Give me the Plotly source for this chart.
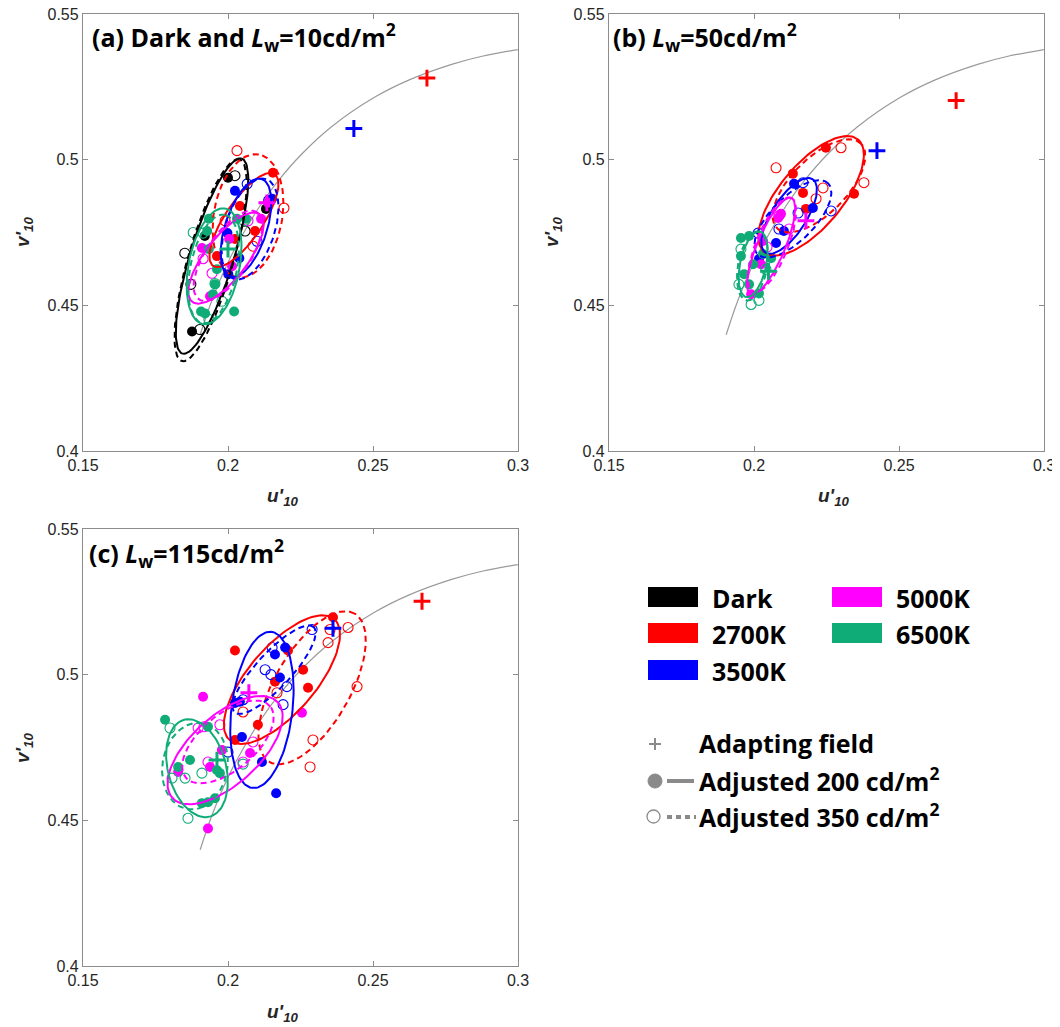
import numpy as np
import plotly.graph_objects as go

# The page body adds an 8 px margin, so the figure is drawn 8 px smaller and all
# layout positions (given in screen pixels of the 1060x1027 window) are shifted by it.
OFF = 8
W, H = 1060 - OFF, 1027 - OFF

# ---------------- data ----------------
conditions = ["Dark", "2700K", "3500K", "5000K", "6500K"]
colors = ["#000000", "#FF0000", "#0000FF", "#FF00FF", "#10AC78"]

# Planckian locus (u'10, v'10)
locus_u = [0.1904, 0.1946, 0.2004, 0.2069, 0.2114, 0.2173, 0.2251, 0.2357, 0.2505, 0.2625, 0.2774, 0.2876, 0.3050]
locus_v = [0.4399, 0.4521, 0.4656, 0.4775, 0.4847, 0.4927, 0.5016, 0.5113, 0.5214, 0.5274, 0.5328, 0.5355, 0.5386]

# Panel (a): Dark and Lw=10 cd/m2
a_dark_200 = [(0.2000, 0.4938), (0.2131, 0.4831), (0.1876, 0.4410), (0.1920, 0.4738)]
a_dark_350 = [(0.2024, 0.4945), (0.1851, 0.4679), (0.1872, 0.4572), (0.1903, 0.4417), (0.2059, 0.4755)]
a_red_200 = [(0.2155, 0.4955), (0.2041, 0.4841), (0.1962, 0.4669), (0.2024, 0.4728), (0.2093, 0.4755)]
a_red_350 = [(0.2031, 0.5031), (0.2193, 0.4834), (0.2086, 0.4703), (0.1990, 0.4790)]
a_blue_200 = [(0.2024, 0.4893), (0.2152, 0.4866), (0.1998, 0.4748), (0.2039, 0.4662), (0.2001, 0.4607)]
a_blue_350 = [(0.2066, 0.4917), (0.2100, 0.4720), (0.2140, 0.4860)]
a_mag_200 = [(0.2138, 0.4852), (0.2114, 0.4797), (0.2004, 0.4728), (0.2014, 0.4634), (0.1938, 0.4531), (0.1910, 0.4697)]
a_mag_350 = [(0.2069, 0.4790), (0.1945, 0.4610), (0.1914, 0.4660)]
a_green_200 = [(0.1934, 0.4797), (0.1928, 0.4755), (0.1934, 0.4693), (0.1962, 0.4624), (0.1955, 0.4572),
               (0.1907, 0.4479), (0.1921, 0.4472), (0.2021, 0.4479), (0.2031, 0.4797), (0.2062, 0.4797), (0.1948, 0.4538)]
a_green_350 = [(0.1914, 0.4748), (0.1955, 0.4575), (0.1979, 0.4514), (0.1934, 0.4452), (0.2055, 0.4790), (0.1880, 0.4750)]
# ellipses: (centre u, centre v, semi-major, semi-minor, angle deg), order = conditions
a_ell_200 = [(0.1945, 0.4669, 0.0350, 0.0075, 73), (0.2055, 0.4793, 0.0190, 0.0065, 56),
             (0.2062, 0.4766, 0.0176, 0.0072, 72), (0.1993, 0.4662, 0.0190, 0.0072, 52),
             (0.1952, 0.4634, 0.0202, 0.0088, 79)]
a_ell_350 = [(0.1940, 0.4655, 0.0360, 0.0078, 74), (0.2069, 0.4807, 0.0214, 0.0118, 80),
             (0.2076, 0.4762, 0.0180, 0.0085, 72), (0.2000, 0.4670, 0.0180, 0.0075, 56),
             (0.1950, 0.4625, 0.0190, 0.0080, 78)]
a_adapt = [None, (0.2686, 0.5280), (0.2434, 0.5107), (0.2134, 0.4852), (0.2000, 0.4693)]

# Panel (b): Lw=50 cd/m2
b_dark_200 = []
b_dark_350 = []
b_red_200 = [(0.2248, 0.5041), (0.2134, 0.4952), (0.2169, 0.4886), (0.2345, 0.4883), (0.2179, 0.4831)]
b_red_350 = [(0.2300, 0.5041), (0.2076, 0.4972), (0.2238, 0.4903), (0.2214, 0.4866), (0.2379, 0.4921)]
b_blue_200 = [(0.2138, 0.4917), (0.2203, 0.4834), (0.2103, 0.4755), (0.2076, 0.4714), (0.2017, 0.4659)]
b_blue_350 = [(0.2169, 0.4921), (0.2266, 0.4824), (0.2152, 0.4817), (0.2086, 0.4762), (0.2014, 0.4748)]
b_mag_200 = [(0.2093, 0.4814), (0.2031, 0.4721), (0.2024, 0.4641), (0.1990, 0.4538), (0.2083, 0.4800)]
b_mag_350 = [(0.2121, 0.4762), (0.2086, 0.4807), (0.2045, 0.4700)]
b_green_200 = [(0.1955, 0.4731), (0.1983, 0.4738), (0.2031, 0.4676), (0.1997, 0.4641), (0.1966, 0.4607),
               (0.1983, 0.4572), (0.2017, 0.4541), (0.2059, 0.4662), (0.1955, 0.4669)]
b_green_350 = [(0.1955, 0.4693), (0.1948, 0.4572), (0.1990, 0.4503), (0.2041, 0.4624), (0.2017, 0.4517)]
b_ell_200 = [None, (0.2197, 0.4876, 0.0252, 0.0108, 50), (0.2121, 0.4807, 0.0150, 0.0060, 57),
             (0.2059, 0.4703, 0.0180, 0.0048, 67), (0.1997, 0.4641, 0.0115, 0.0045, 78)]
b_ell_350 = [None, (0.2224, 0.4910, 0.0205, 0.0095, 45), (0.2134, 0.4797, 0.0172, 0.0075, 45),
             (0.2062, 0.4707, 0.0175, 0.0055, 68), (0.1995, 0.4635, 0.0120, 0.0050, 80)]
b_adapt = [None, (0.2697, 0.5203), (0.2424, 0.5031), (0.2179, 0.4790), (0.2050, 0.4617)]

# Panel (c): Lw=115 cd/m2
c_dark_200 = []
c_dark_350 = []
c_red_200 = [(0.2362, 0.5197), (0.2024, 0.5083), (0.2207, 0.5083), (0.2259, 0.5017), (0.2162, 0.4976),
             (0.2276, 0.4955), (0.2103, 0.4828), (0.2024, 0.4776)]
c_red_350 = [(0.2352, 0.5155), (0.2414, 0.5162), (0.2345, 0.5110), (0.2445, 0.4959), (0.2169, 0.4938),
             (0.2052, 0.4872), (0.2293, 0.4776), (0.2283, 0.4683)]
c_blue_200 = [(0.2197, 0.5093), (0.2162, 0.5069), (0.2179, 0.4990), (0.2024, 0.4903), (0.2041, 0.4907),
              (0.2048, 0.4786), (0.2117, 0.4700), (0.2166, 0.4593)]
c_blue_350 = [(0.2290, 0.5155), (0.2152, 0.5093), (0.2128, 0.5017), (0.2148, 0.5000), (0.2203, 0.4959),
              (0.2190, 0.4897), (0.2052, 0.4914), (0.2000, 0.4734)]
c_mag_200 = [(0.1914, 0.4924), (0.2255, 0.4869), (0.1979, 0.4741), (0.2076, 0.4731), (0.1938, 0.4683),
             (0.1828, 0.4666), (0.1931, 0.4472)]
c_mag_350 = [(0.1972, 0.4828), (0.1917, 0.4821), (0.1931, 0.4700), (0.2086, 0.4769), (0.2052, 0.4700), (0.1897, 0.4817)]
c_green_200 = [(0.1783, 0.4845), (0.1931, 0.4821), (0.1828, 0.4683), (0.1869, 0.4707), (0.1962, 0.4672),
               (0.1972, 0.4662), (0.1910, 0.4559), (0.1931, 0.4562), (0.1955, 0.4576)]
c_green_350 = [(0.1800, 0.4817), (0.1807, 0.4645), (0.1852, 0.4645), (0.1910, 0.4662), (0.1862, 0.4507), (0.2052, 0.4693)]
c_ell_200 = [None, (0.2186, 0.4983, 0.0275, 0.0115, 49), (0.2117, 0.4879, 0.0270, 0.0105, 83),
             (0.1990, 0.4741, 0.0245, 0.0118, 42), (0.1893, 0.4679, 0.0172, 0.0100, 105)]
c_ell_350 = [None, (0.2290, 0.4955, 0.0294, 0.0130, 60), (0.2159, 0.5017, 0.0200, 0.0060, 47),
             (0.2000, 0.4769, 0.0190, 0.0095, 40), (0.1886, 0.4686, 0.0150, 0.0112, 80)]
c_adapt = [None, (0.2669, 0.5252), (0.2362, 0.5159), (0.2072, 0.4938), (0.1962, 0.4707)]

x_ticks = [0.15, 0.2, 0.25, 0.3]
x_ticktext = ["0.15", "0.2", "0.25", "0.3"]
y_ticks = [0.4, 0.45, 0.5, 0.55]
y_ticktext = ["0.4", "0.45", "0.5", "0.55"]

titles = ["<b>(a) Dark and <i>L</i><sub>w</sub>=10cd/m<sup>2</sup></b>",
          "<b>(b) <i>L</i><sub>w</sub>=50cd/m<sup>2</sup></b>",
          "<b>(c) <i>L</i><sub>w</sub>=115cd/m<sup>2</sup></b>"]

# ---------------- figure ----------------
fig = go.Figure()

def px_x(p):
    return (p - OFF) / W

def px_y(p):
    return 1 - (p - OFF) / H

def ellipse(e, n=120):
    cu, cv, a, b, ang = e
    t = np.linspace(0, 2 * np.pi, n)
    th = np.deg2rad(ang)
    x = cu + a * np.cos(t) * np.cos(th) - b * np.sin(t) * np.sin(th)
    y = cv + a * np.cos(t) * np.sin(th) + b * np.sin(t) * np.cos(th)
    return x, y

panels = [
    dict(ax="x", ay="y", pts200=[a_dark_200, a_red_200, a_blue_200, a_mag_200, a_green_200],
         pts350=[a_dark_350, a_red_350, a_blue_350, a_mag_350, a_green_350],
         e200=a_ell_200, e350=a_ell_350, adapt=a_adapt),
    dict(ax="x2", ay="y2", pts200=[b_dark_200, b_red_200, b_blue_200, b_mag_200, b_green_200],
         pts350=[b_dark_350, b_red_350, b_blue_350, b_mag_350, b_green_350],
         e200=b_ell_200, e350=b_ell_350, adapt=b_adapt),
    dict(ax="x3", ay="y3", pts200=[c_dark_200, c_red_200, c_blue_200, c_mag_200, c_green_200],
         pts350=[c_dark_350, c_red_350, c_blue_350, c_mag_350, c_green_350],
         e200=c_ell_200, e350=c_ell_350, adapt=c_adapt),
]

for p in panels:
    ax, ay = p["ax"], p["ay"]
    fig.add_trace(go.Scatter(x=locus_u, y=locus_v, mode="lines", line=dict(color="#9a9a9a", width=1.2, shape="spline"),
                             xaxis=ax, yaxis=ay, showlegend=False, hoverinfo="skip"))
    for i, c in enumerate(conditions):
        pts = p["pts200"][i]
        if pts:
            fig.add_trace(go.Scatter(x=[q[0] for q in pts], y=[q[1] for q in pts], mode="markers",
                                     marker=dict(symbol="circle", size=10, color=colors[i]),
                                     xaxis=ax, yaxis=ay, showlegend=False))
        pts = p["pts350"][i]
        if pts:
            fig.add_trace(go.Scatter(x=[q[0] for q in pts], y=[q[1] for q in pts], mode="markers",
                                     marker=dict(symbol="circle-open", size=10, color=colors[i], line=dict(width=1.1)),
                                     xaxis=ax, yaxis=ay, showlegend=False))
    for i, c in enumerate(conditions):
        if p["e200"][i] is not None:
            ex, ey = ellipse(p["e200"][i])
            fig.add_trace(go.Scatter(x=ex, y=ey, mode="lines", line=dict(color=colors[i], width=2),
                                     xaxis=ax, yaxis=ay, showlegend=False, hoverinfo="skip"))
        if p["e350"][i] is not None:
            ex, ey = ellipse(p["e350"][i])
            fig.add_trace(go.Scatter(x=ex, y=ey, mode="lines", line=dict(color=colors[i], width=2, dash="6px,4px"),
                                     xaxis=ax, yaxis=ay, showlegend=False, hoverinfo="skip"))
    for i, c in enumerate(conditions):
        ad = p["adapt"][i]
        if ad is not None:
            fig.add_trace(go.Scatter(x=[ad[0]], y=[ad[1]], mode="markers",
                                     marker=dict(symbol="cross-thin-open", size=12, color=colors[i], line=dict(width=3)),
                                     xaxis=ax, yaxis=ay, showlegend=False))

axis_common = dict(showgrid=False, zeroline=False, showline=True, linecolor="#8c8c8c", linewidth=1.3,
                   mirror="ticks", ticks="inside", ticklen=5, tickcolor="#8c8c8c", tickwidth=1.3,
                   automargin=False, ticklabeloverflow="allow",
                   tickfont=dict(family="Liberation Sans, Arial", size=16, color="#262626"))

xa = dict(range=[0.15, 0.3], tickvals=x_ticks, ticktext=x_ticktext, **axis_common)
ya = dict(range=[0.4, 0.55], tickvals=y_ticks, ticktext=y_ticktext, **axis_common)

dom_x_left = [px_x(83), px_x(518)]
dom_x_right = [px_x(609), px_x(1044)]
dom_y_top = [px_y(451), px_y(14)]
dom_y_bot = [px_y(966), px_y(529)]

fig.update_layout(
    width=W, height=H, margin=dict(l=0, r=0, t=0, b=0, autoexpand=False),
    plot_bgcolor="white", paper_bgcolor="white", showlegend=False,
    xaxis=dict(domain=dom_x_left, anchor="y", **xa),
    yaxis=dict(domain=dom_y_top, anchor="x", **ya),
    xaxis2=dict(domain=dom_x_right, anchor="y2", **xa),
    yaxis2=dict(domain=dom_y_top, anchor="x2", **ya),
    xaxis3=dict(domain=dom_x_left, anchor="y3", **xa),
    yaxis3=dict(domain=dom_y_bot, anchor="x3", **ya),
)

title_font = dict(family="Open Sans", size=25, color="#000000")
ann = []
for t, (x0, y0) in zip(titles, [(90, 37), (611, 37), (87, 553)]):
    ann.append(dict(text=t, x=px_x(x0), y=px_y(y0), xref="paper", yref="paper", xanchor="left", yanchor="middle",
                    showarrow=False, font=title_font))

lab_font = dict(family="Liberation Sans, Arial", size=19, color="#262626")
u_lab = "<b><i>u'</i></b><sub><b><i>10</i></b></sub>"
v_lab = "<b><i>v'</i></b><sub><b><i>10</i></b></sub>"
for (x0, y0) in [(283, 497), (834, 497), (283, 1013)]:
    ann.append(dict(text=u_lab, x=px_x(x0), y=px_y(y0), xref="paper", yref="paper", xanchor="center", yanchor="middle",
                    showarrow=False, font=lab_font))
for (x0, y0) in [(24, 232), (553, 232), (24, 748)]:
    ann.append(dict(text=v_lab, x=px_x(x0), y=px_y(y0), xref="paper", yref="paper", xanchor="center", yanchor="middle",
                    showarrow=False, font=lab_font, textangle=-90))

# ---------------- custom legend ----------------
shapes = []
leg_font = dict(family="Open Sans", size=25, color="#000000")
leg_patches = [(648, 587, 0), (648, 623, 1), (648, 660, 2), (832, 587, 3), (832, 623, 4)]
for (x0, y0, i) in leg_patches:
    shapes.append(dict(type="rect", xref="paper", yref="paper", x0=px_x(x0), x1=px_x(x0 + 50),
                       y0=px_y(y0 + 20), y1=px_y(y0), fillcolor=colors[i], line=dict(width=0)))
    ann.append(dict(text="<b>" + conditions[i] + "</b>", x=px_x(x0 + 62), y=px_y(y0 + 11), xref="paper", yref="paper",
                    xanchor="left", yanchor="middle", showarrow=False, font=leg_font))

gray = "#8a8a8a"
# adapting field symbol
shapes.append(dict(type="line", xref="paper", yref="paper", x0=px_x(649), x1=px_x(661), y0=px_y(744), y1=px_y(744),
                   line=dict(color=gray, width=2)))
shapes.append(dict(type="line", xref="paper", yref="paper", x0=px_x(655), x1=px_x(655), y0=px_y(738), y1=px_y(750),
                   line=dict(color=gray, width=2)))
# filled circle + solid line
shapes.append(dict(type="circle", xref="paper", yref="paper", x0=px_x(648), x1=px_x(662), y0=px_y(788), y1=px_y(774),
                   fillcolor=gray, line=dict(color=gray, width=1)))
shapes.append(dict(type="line", xref="paper", yref="paper", x0=px_x(667), x1=px_x(694), y0=px_y(781), y1=px_y(781),
                   line=dict(color=gray, width=4)))
# open circle + dotted line
shapes.append(dict(type="circle", xref="paper", yref="paper", x0=px_x(647), x1=px_x(660), y0=px_y(823), y1=px_y(810),
                   fillcolor="white", line=dict(color=gray, width=1.3)))
shapes.append(dict(type="line", xref="paper", yref="paper", x0=px_x(667), x1=px_x(696), y0=px_y(817), y1=px_y(817),
                   line=dict(color=gray, width=4, dash="5px,4px")))

for txt, y0 in [("<b>Adapting field</b>", 743), ("<b>Adjusted 200 cd/m<sup>2</sup></b>", 779),
                ("<b>Adjusted 350 cd/m<sup>2</sup></b>", 815)]:
    ann.append(dict(text=txt, x=px_x(697), y=px_y(y0), xref="paper", yref="paper", xanchor="left", yanchor="middle",
                    showarrow=False, font=leg_font))

fig.update_layout(annotations=ann, shapes=shapes)

fig.write_html("out.html")
